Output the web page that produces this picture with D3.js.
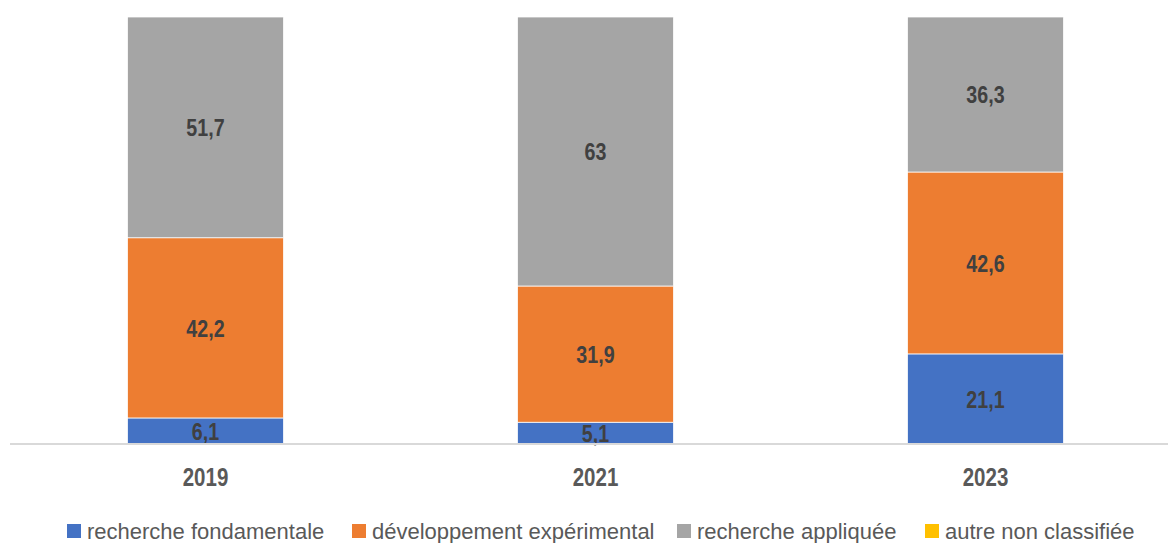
<!DOCTYPE html>
<html>
<head>
<meta charset="utf-8">
<script src="https://cdn.jsdelivr.net/npm/d3@7"></script>
<style>
  body { margin: 0; background: #fff; }
  .lbl { font-family: "Liberation Sans", Arial, sans-serif; font-weight: bold; }
  .leg { font-family: "Liberation Sans", Arial, sans-serif; }
</style>
</head>
<body>
<svg width="1168" height="543"></svg>
<script>
var years = ["2019", "2021", "2023"];
var series = ["recherche fondamentale", "développement expérimental", "recherche appliquée", "autre non classifiée"];
var fondamentale = [6.1, 5.1, 21.1];
var developpement = [42.2, 31.9, 42.6];
var appliquee = [51.7, 63, 36.3];
var autre = [0, 0, 0];
var colors = ["#4472C4", "#ED7D31", "#A5A5A5", "#FFC000"];

var svg = d3.select("svg");

var rows = years.map(function(y, i) {
    return {
        year: y,
        "recherche fondamentale": fondamentale[i],
        "développement expérimental": developpement[i],
        "recherche appliquée": appliquee[i],
        "autre non classifiée": autre[i]
    };
});

var stack = d3.stack().keys(series)(rows);

var x = d3.scaleBand().domain(years).range([10.5, 1180.5]).paddingInner(0.6).paddingOuter(0.3);
var y = d3.scaleLinear().domain([0, 100]).range([444, 17]);
var color = d3.scaleOrdinal().domain(series).range(colors);

var layer = svg.append("g").selectAll("g")
    .data(stack)
    .enter().append("g")
    .attr("fill", function(d) { return color(d.key); });

layer.selectAll("rect")
    .data(function(d) { return d; })
    .enter().append("rect")
    .attr("x", function(d) { return x(d.data.year); })
    .attr("y", function(d) { return y(d[1]); })
    .attr("width", x.bandwidth())
    .attr("height", function(d) { return y(d[0]) - y(d[1]); })
    .attr("stroke", "#fff")
    .attr("stroke-width", 0.75);

// value labels (squeezed to look like a narrow font)
layer.selectAll("text")
    .data(function(d) { return d.filter(function(p) { return p[1] - p[0] > 0; }); })
    .enter().append("text")
    .attr("class", "lbl")
    .attr("transform", function(d) {
        return "translate(" + (x(d.data.year) + x.bandwidth() / 2) + "," + (y(d[0]) + y(d[1])) / 2 + ") scale(0.82,1)";
    })
    .attr("dy", "0.36em")
    .attr("text-anchor", "middle")
    .attr("font-size", 24)
    .attr("fill", "#404040")
    .text(function(d) { return String(+(d[1] - d[0]).toFixed(1)).replace(".", ","); });

// axis
var axis = svg.append("g")
    .attr("transform", "translate(0," + y(0) + ")")
    .call(d3.axisBottom(x).tickSize(0).tickPadding(24));
axis.select(".domain").attr("stroke", "#D9D9D9").attr("stroke-width", 2).attr("d", "M10,0H1168");
axis.selectAll(".tick text")
    .attr("class", "lbl")
    .attr("font-size", 25)
    .attr("fill", "#595959")
    .attr("transform", "scale(0.82,1)");

// legend
var legX = [67, 352, 677, 925];
var leg = svg.append("g").selectAll("g")
    .data(series)
    .enter().append("g")
    .attr("transform", function(d, i) { return "translate(" + legX[i] + ",524)"; });
leg.append("rect")
    .attr("width", 14).attr("height", 14)
    .attr("fill", function(d) { return color(d); });
leg.append("text")
    .attr("class", "leg")
    .attr("x", 20)
    .attr("y", 15)
    .attr("font-size", 22)
    .attr("fill", "#595959")
    .text(function(d) { return d; });
</script>
</body>
</html>
